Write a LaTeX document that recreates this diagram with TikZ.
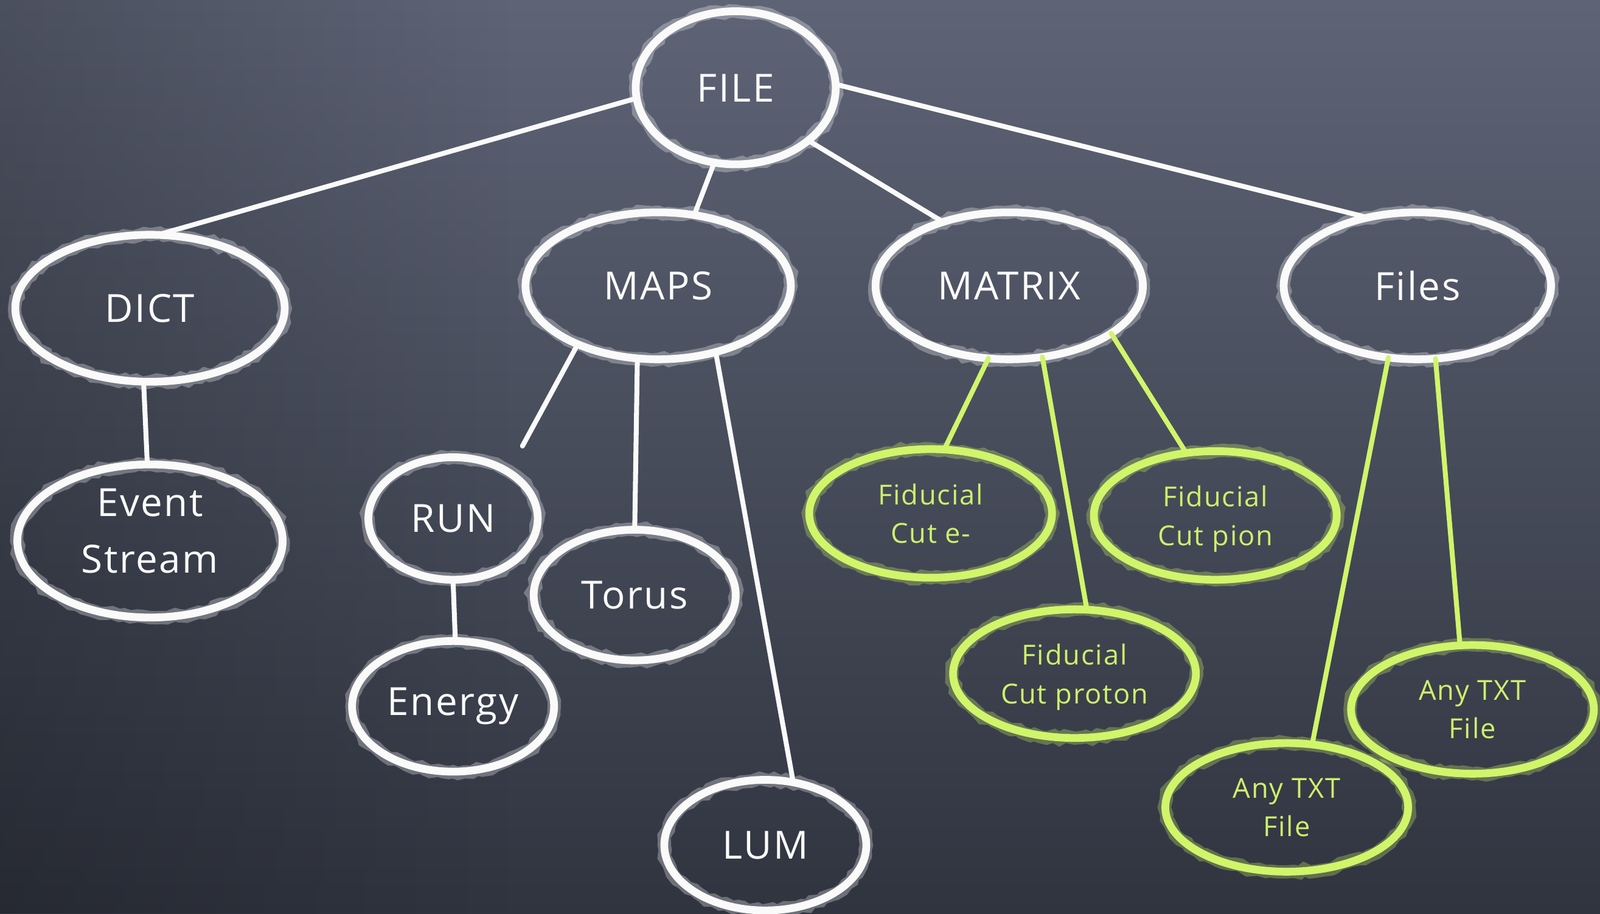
\documentclass[tikz,border=0pt]{standalone}
\usepackage{fontspec}
\setmainfont{Open Sans}[LetterSpace=4]
\usetikzlibrary{shapes.geometric,decorations.pathmorphing,fadings}
\definecolor{boardtop}{HTML}{5E6476}
\definecolor{boardmid}{HTML}{555A6B}
\definecolor{boardbot}{HTML}{30343F}
\definecolor{chalkw}{HTML}{FAFAFA}
\definecolor{chalkg}{HTML}{D0F56A}
\definecolor{textg}{HTML}{CDF06C}
\newcommand\wfont{\fontsize{19}{27.5}\selectfont}
\newcommand\gfont{\fontsize{13.5}{19}\selectfont}
\begin{document}
\begin{tikzpicture}[x=0.5pt,y=-0.5pt,
  chalk/.style={line width=3.8pt, line cap=round,
    preaction={draw, line width=6.5pt, draw opacity=0.3, decorate,
      decoration={random steps, segment length=3pt, amplitude=0.9pt}}},
  wnode/.style={ellipse, draw=chalkw, chalk, text=chalkw, font=\wfont,
    inner sep=0pt, outer sep=0pt, align=center},
  gnode/.style={ellipse, draw=chalkg, chalk, text=textg, font=\gfont,
    inner sep=0pt, outer sep=0pt, align=center, text depth=0pt,
    minimum width=119pt, minimum height=63pt},
  wline/.style={draw=chalkw, line width=2.4pt, line cap=round},
  gline/.style={draw=chalkg, line width=2.4pt, line cap=round}]

\useasboundingbox (0,0) rectangle (1568,895);
\clip (0,0) rectangle (1568,895);
\shade[top color=boardtop, middle color=boardmid, bottom color=boardbot] (0,0) rectangle (1568,895);
\fill[black, path fading=east, fill opacity=0.2] (0,0) rectangle (500,895);

% nodes
\node[wnode, minimum width=98pt, minimum height=75pt] (file) at (721,86) {FILE};
\node[wnode, minimum width=132pt, minimum height=72pt] (dict) at (147,302) {DICT};
\node[wnode, minimum width=130pt, minimum height=72pt] (maps) at (645,280) {MAPS};
\node[wnode, minimum width=131pt, minimum height=72pt] (matrix) at (989,280) {MATRIX};
\node[wnode, minimum width=131pt, minimum height=72pt] (files) at (1389,280) {Files};
\node[wnode, minimum width=130pt, minimum height=75pt, text depth=10pt] (event) at (147,530) {Event\\Stream};
\node[wnode, minimum width=83pt, minimum height=60pt] (run) at (444,508) {RUN};
\node[wnode, minimum width=99pt, minimum height=64pt] (torus) at (622,583) {Torus};
\node[wnode, minimum width=99pt, minimum height=64pt] (energy) at (444,692) {Energy};
\node[wnode, minimum width=99pt, minimum height=64pt] (lum) at (750,828) {LUM};
\node[gnode] (fide) at (912,503) {Fiducial\\Cut e-};
\node[gnode] (fidpi) at (1191,505) {Fiducial\\Cut pion};
\node[gnode] (fidp) at (1053,660) {Fiducial\\Cut proton};
\node[gnode] (txtr) at (1443,695) {Any TXT\\File};
\node[gnode] (txtl) at (1261,791) {Any TXT\\File};

\coordinate (runtip) at (512,437);

% connectors
\draw[wline] (file.186) -- (dict.84);
\draw[wline] (file.254) -- (maps.63);
\draw[wline] (file.324) -- (matrix.136);
\draw[wline] (file.2) -- (files.126);
\draw[wline] (dict.265) -- (event.92);
\draw[wline] (maps.216) -- (runtip);
\draw[wline] (maps.254) -- (torus.90);
\draw[wline] (maps.311) -- (lum.66);
\draw[wline] (run.270) -- (energy.88);
\draw[gline] (matrix.254) -- (fide.78);
\draw[gline] (matrix.295) -- (fidp.79);
\draw[gline] (matrix.335) -- (fidpi.115);
\draw[gline] (files.248) -- (txtl.68);
\draw[gline] (files.284) -- (txtr.101);
\end{tikzpicture}
\end{document}
